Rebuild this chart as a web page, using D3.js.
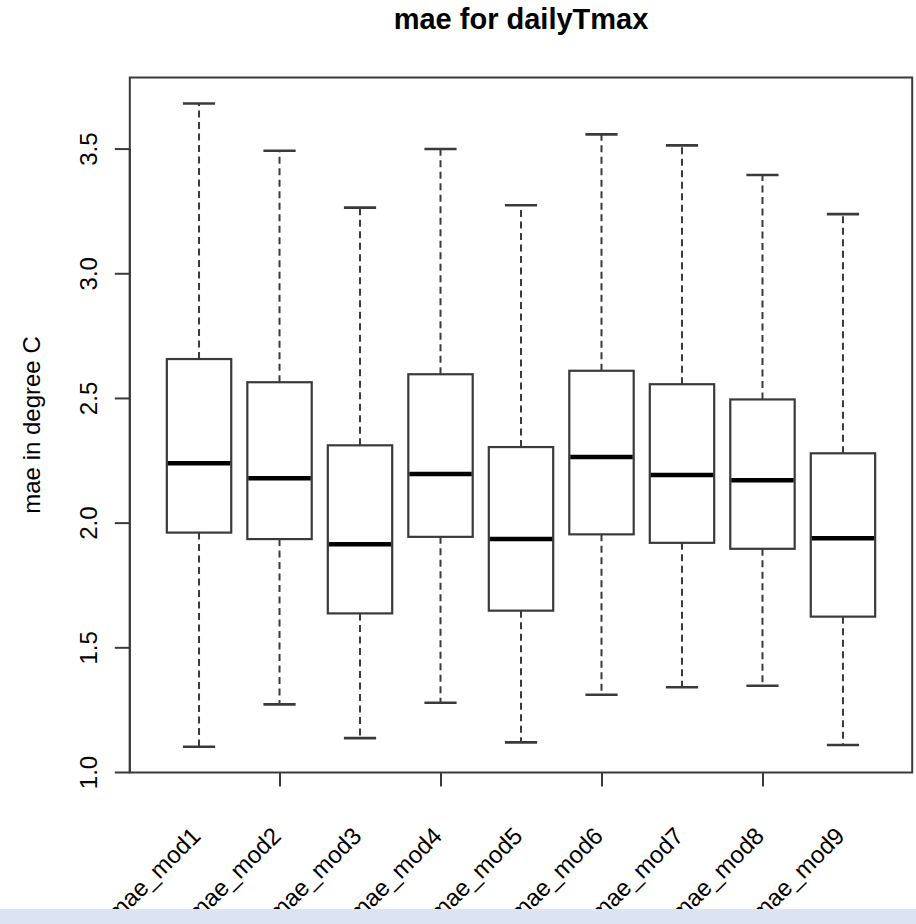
<!DOCTYPE html>
<html>
<head>
<meta charset="utf-8">
<script src="https://cdn.jsdelivr.net/npm/d3@7/dist/d3.min.js"></script>
<style>
  html, body { margin: 0; padding: 0; background: #ffffff; }
  svg { display: block; }
  text { font-family: "Liberation Sans", Arial, Helvetica, sans-serif; fill: #000; }
</style>
</head>
<body>
<svg id="chart" width="916" height="924"></svg>
<script>
// Model names, one box per model
const categories = ["mae_mod1", "mae_mod2", "mae_mod3", "mae_mod4", "mae_mod5",
                    "mae_mod6", "mae_mod7", "mae_mod8", "mae_mod9"];

// Five-number summaries (degree C)
const whiskerLow  = [1.101, 1.271, 1.136, 1.278, 1.119, 1.310, 1.340, 1.346, 1.108];
const lowerHinge  = [1.960, 1.934, 1.636, 1.943, 1.647, 1.953, 1.919, 1.895, 1.623];
const medians     = [2.238, 2.178, 1.913, 2.195, 1.934, 2.263, 2.191, 2.170, 1.937];
const upperHinge  = [2.656, 2.563, 2.310, 2.595, 2.303, 2.609, 2.555, 2.494, 2.278];
const whiskerHigh = [3.681, 3.491, 3.263, 3.498, 3.273, 3.557, 3.513, 3.394, 3.237];

// Axis ticks
const yTicks = [1.0, 1.5, 2.0, 2.5, 3.0, 3.5];
const xTicked = ["mae_mod2", "mae_mod4", "mae_mod6", "mae_mod8"];

const titleText = "mae for dailyTmax";
const yLabel = "mae in degree C";

const svg = d3.select("#chart");

// Plot region
const plotLeft = 129.8, plotRight = 912.2, plotTop = 77.5, plotBottom = 772.5;

const x = d3.scalePoint().domain(categories).range([plotLeft, plotRight]).padding(0.86);
const step = x.step();
const boxW = step * 0.8;

const y = d3.scaleLinear().domain([0.998, 3.785]).range([plotBottom, plotTop]);

const ink = "#3a3a3a";

const rows = categories.map((c, i) => ({
  name: c,
  lo: whiskerLow[i], q1: lowerHinge[i], med: medians[i], q3: upperHinge[i], hi: whiskerHigh[i]
}));

const g = svg.append("g");

// whiskers (dashed)
g.selectAll("line.whisk-up").data(rows).join("line")
  .attr("class", "whisk-up")
  .attr("x1", d => x(d.name)).attr("x2", d => x(d.name))
  .attr("y1", d => y(d.q3)).attr("y2", d => y(d.hi))
  .attr("stroke", ink).attr("stroke-width", 2).attr("stroke-dasharray", "7,4.5");
g.selectAll("line.whisk-dn").data(rows).join("line")
  .attr("class", "whisk-dn")
  .attr("x1", d => x(d.name)).attr("x2", d => x(d.name))
  .attr("y1", d => y(d.q1)).attr("y2", d => y(d.lo))
  .attr("stroke", ink).attr("stroke-width", 2).attr("stroke-dasharray", "7,4.5");

// staples
["hi", "lo"].forEach(k => {
  g.selectAll("line.staple-" + k).data(rows).join("line")
    .attr("class", "staple-" + k)
    .attr("x1", d => x(d.name) - boxW / 4).attr("x2", d => x(d.name) + boxW / 4)
    .attr("y1", d => y(d[k])).attr("y2", d => y(d[k]))
    .attr("stroke", ink).attr("stroke-width", 2.6);
});

// boxes
g.selectAll("rect.box").data(rows).join("rect")
  .attr("class", "box")
  .attr("x", d => x(d.name) - boxW / 2).attr("width", boxW)
  .attr("y", d => y(d.q3)).attr("height", d => y(d.q1) - y(d.q3))
  .attr("fill", "#ffffff").attr("stroke", ink).attr("stroke-width", 2.2);

// medians
g.selectAll("line.med").data(rows).join("line")
  .attr("class", "med")
  .attr("x1", d => x(d.name) - boxW / 2 + 1).attr("x2", d => x(d.name) + boxW / 2 - 1)
  .attr("y1", d => y(d.med)).attr("y2", d => y(d.med))
  .attr("stroke", "#000").attr("stroke-width", 4.5);

// plot frame
svg.append("rect")
  .attr("x", plotLeft).attr("y", plotTop)
  .attr("width", plotRight - plotLeft).attr("height", plotBottom - plotTop)
  .attr("fill", "none").attr("stroke", ink).attr("stroke-width", 2);

// y axis
const yAxis = svg.append("g").attr("transform", `translate(${plotLeft},0)`)
  .call(d3.axisLeft(y).tickValues(yTicks).tickSize(15).tickFormat(d3.format(".1f")));
yAxis.select(".domain").attr("stroke", ink).attr("stroke-width", 2)
  .attr("d", `M0,${y(yTicks[0])}V${y(yTicks[yTicks.length - 1])}`);
yAxis.selectAll(".tick line").attr("stroke", ink).attr("stroke-width", 2);
yAxis.selectAll(".tick text")
  .attr("transform", "rotate(-90)")
  .attr("x", 0).attr("y", -33).attr("dy", null)
  .attr("text-anchor", "middle")
  .style("font-size", "24px").style("font-family", "'Liberation Sans', Arial, sans-serif")
  .attr("fill", "#000");

// x axis ticks (every second model)
const xAxis = svg.append("g").attr("transform", `translate(0,${plotBottom})`)
  .call(d3.axisBottom(x).tickValues(xTicked).tickSize(14).tickFormat(""));
xAxis.select(".domain").remove();
xAxis.selectAll(".tick line").attr("stroke", ink).attr("stroke-width", 2);

// rotated model labels
svg.append("g").selectAll("text").data(categories).join("text")
  .attr("transform", d => `translate(${x(d) - 3},${plotBottom + 59}) rotate(-45)`)
  .attr("text-anchor", "end")
  .attr("dy", "0.35em")
  .style("font-size", "24px")
  .text(d => d);

// title
svg.append("text")
  .attr("x", (plotLeft + plotRight) / 2).attr("y", 29)
  .attr("text-anchor", "middle")
  .style("font-size", "29px").style("font-weight", "bold")
  .text(titleText);

// y axis title
svg.append("text")
  .attr("transform", `translate(40,${(plotTop + plotBottom) / 2}) rotate(-90)`)
  .attr("text-anchor", "middle")
  .style("font-size", "24px")
  .text(yLabel);

// bottom strip
svg.append("rect")
  .attr("x", 0).attr("y", 909).attr("width", 916).attr("height", 15)
  .attr("fill", "#dce4f4");
</script>
</body>
</html>
